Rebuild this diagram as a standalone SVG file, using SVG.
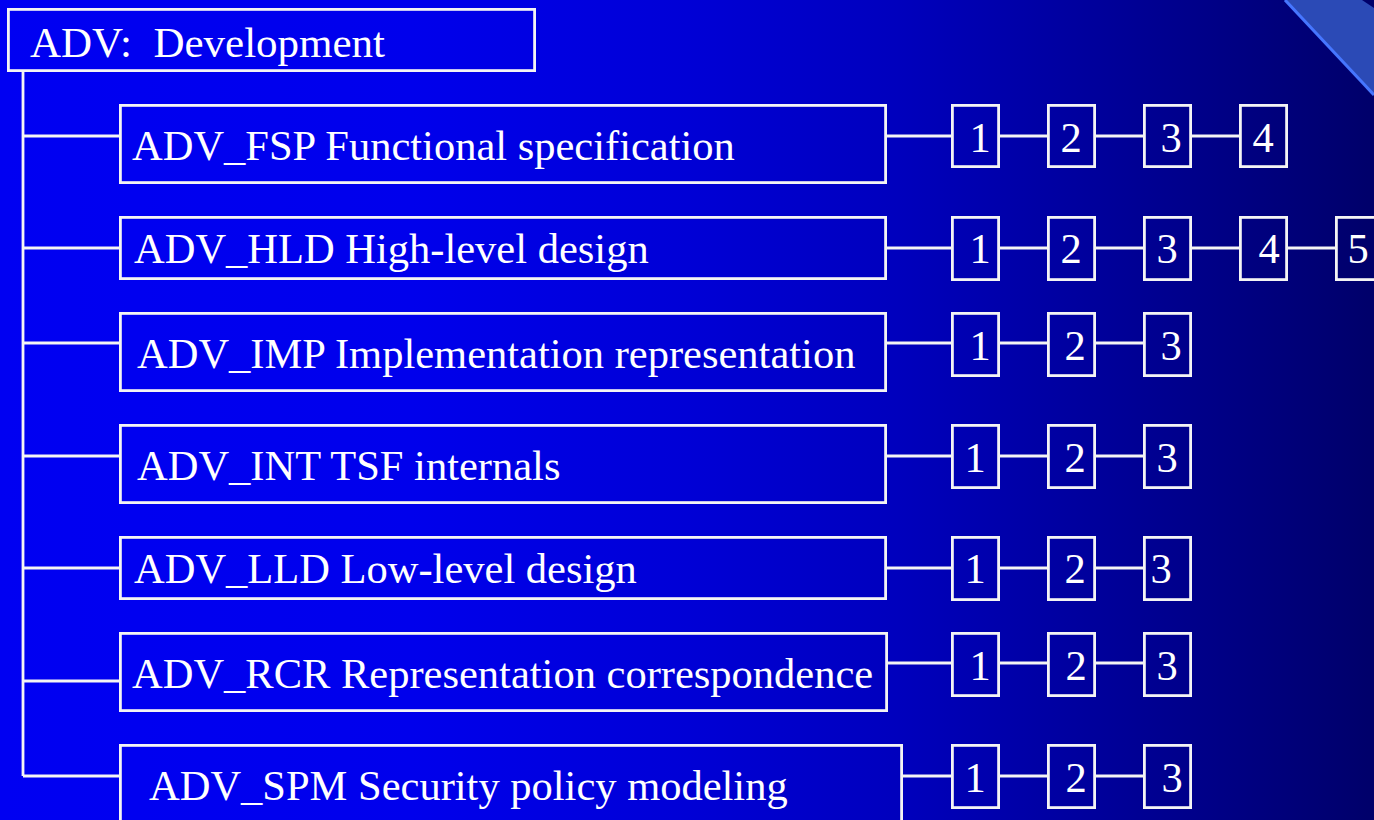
<svg xmlns="http://www.w3.org/2000/svg" width="1374" height="820" viewBox="0 0 1374 820">
  <defs>
    <linearGradient id="bg" x1="0" y1="0" x2="1374" y2="0" gradientUnits="userSpaceOnUse">
      <stop offset="0" stop-color="#0000F2"/>
      <stop offset="0.3" stop-color="#0000EC"/>
      <stop offset="0.5" stop-color="#0000D6"/>
      <stop offset="0.65" stop-color="#0000BE"/>
      <stop offset="0.82" stop-color="#000096"/>
      <stop offset="1" stop-color="#00006A"/>
    </linearGradient>
    <style>
      .box { fill: none; stroke: #F4F4F4; stroke-width: 2.8; }
      .wire { fill: none; stroke: #F4F4F4; stroke-width: 2.8; }
      .lbl { font-family: "Liberation Serif", "Times New Roman", serif; font-size: 42.5px; fill: #FFFFFF; }
      .title { font-size: 43px; }
      .num { font-family: "Liberation Serif", "Times New Roman", serif; font-size: 42.5px; fill: #FFFFFF; text-anchor: middle; }
    </style>
  </defs>

  <!-- background -->
  <rect x="0" y="0" width="1374" height="820" fill="url(#bg)"/>
  <polygon points="1285,0 1374,0 1374,95" fill="#2B4AB6"/>
  <polygon points="1362,0 1374,0 1374,8" fill="#00006A"/>
  <line x1="1285" y1="0" x2="1374" y2="95" stroke="#4676FF" stroke-width="3"/>

  <!-- connectors -->
  <g id="connectors" class="wire">
    <!-- tree trunk and branches -->
    <path d="M23,72 V776"/>
    <path d="M23,136 H119 M23,248 H119 M23,343 H119 M23,456 H119 M23,568 H119 M23,681 H119 M23,776 H119"/>
    <!-- level chains -->
    <path d="M887,136 H951 M1000,136 H1047 M1096,136 H1143 M1192,136 H1239"/>
    <path d="M887,248 H951 M1000,248 H1047 M1096,248 H1143 M1192,248 H1239 M1288,248 H1335"/>
    <path d="M887,343 H951 M1000,343 H1047 M1096,343 H1143"/>
    <path d="M887,456 H951 M1000,456 H1047 M1096,456 H1143"/>
    <path d="M887,568 H951 M1000,568 H1047 M1096,568 H1143"/>
    <path d="M887,663 H951 M1000,663 H1047 M1096,663 H1143"/>
    <path d="M903,776 H951 M1000,776 H1047 M1096,776 H1143"/>
  </g>

  <!-- root -->
  <g id="adv">
    <rect class="box" x="8.4" y="9.4" width="526.2" height="61.2"/>
    <text class="lbl title" x="30" y="57" xml:space="preserve">ADV:  Development</text>
  </g>

  <!-- families -->
  <g id="adv-fsp">
    <rect class="box" x="120.4" y="105.4" width="765.2" height="77.2"/>
    <text class="lbl" x="132" y="160">ADV_FSP Functional specification</text>
    <rect class="box" x="952.4" y="105.4" width="46.2" height="61.2"/>
    <text class="num" x="980" y="152">1</text>
    <rect class="box" x="1048.4" y="105.4" width="46.2" height="61.2"/>
    <text class="num" x="1071" y="152">2</text>
    <rect class="box" x="1144.4" y="105.4" width="46.2" height="61.2"/>
    <text class="num" x="1171" y="152">3</text>
    <rect class="box" x="1240.4" y="105.4" width="46.2" height="61.2"/>
    <text class="num" x="1263" y="152">4</text>
  </g>

  <g id="adv-hld">
    <rect class="box" x="120.4" y="217.4" width="765.2" height="61.2"/>
    <text class="lbl" x="134" y="263">ADV_HLD High-level design</text>
    <rect class="box" x="952.4" y="217.4" width="46.2" height="62.2"/>
    <text class="num" x="980" y="263">1</text>
    <rect class="box" x="1048.4" y="217.4" width="46.2" height="62.2"/>
    <text class="num" x="1071" y="263">2</text>
    <rect class="box" x="1144.4" y="217.4" width="46.2" height="62.2"/>
    <text class="num" x="1167" y="263">3</text>
    <rect class="box" x="1240.4" y="217.4" width="46.2" height="62.2"/>
    <text class="num" x="1269" y="263">4</text>
    <rect class="box" x="1336.4" y="217.4" width="46.2" height="62.2"/>
    <text class="num" x="1358" y="263">5</text>
  </g>

  <g id="adv-imp">
    <rect class="box" x="120.4" y="313.4" width="765.2" height="77.2"/>
    <text class="lbl" x="137" y="368">ADV_IMP Implementation representation</text>
    <rect class="box" x="952.4" y="313.4" width="46.2" height="62.2"/>
    <text class="num" x="980" y="360">1</text>
    <rect class="box" x="1048.4" y="313.4" width="46.2" height="62.2"/>
    <text class="num" x="1075" y="360">2</text>
    <rect class="box" x="1144.4" y="313.4" width="46.2" height="62.2"/>
    <text class="num" x="1171" y="360">3</text>
  </g>

  <g id="adv-int">
    <rect class="box" x="120.4" y="425.4" width="765.2" height="77.2"/>
    <text class="lbl" x="137" y="480">ADV_INT TSF internals</text>
    <rect class="box" x="952.4" y="425.4" width="46.2" height="62.2"/>
    <text class="num" x="975" y="472">1</text>
    <rect class="box" x="1048.4" y="425.4" width="46.2" height="62.2"/>
    <text class="num" x="1075" y="472">2</text>
    <rect class="box" x="1144.4" y="425.4" width="46.2" height="62.2"/>
    <text class="num" x="1167" y="472">3</text>
  </g>

  <g id="adv-lld">
    <rect class="box" x="120.4" y="537.4" width="765.2" height="61.2"/>
    <text class="lbl" x="134" y="583">ADV_LLD Low-level design</text>
    <rect class="box" x="952.4" y="537.4" width="46.2" height="62.2"/>
    <text class="num" x="975" y="583">1</text>
    <rect class="box" x="1048.4" y="537.4" width="46.2" height="62.2"/>
    <text class="num" x="1075" y="583">2</text>
    <rect class="box" x="1144.4" y="537.4" width="46.2" height="62.2"/>
    <text class="num" x="1161" y="583">3</text>
  </g>

  <g id="adv-rcr">
    <rect class="box" x="120.4" y="633.4" width="766.2" height="77.2"/>
    <text class="lbl" x="132" y="688">ADV_RCR Representation correspondence</text>
    <rect class="box" x="952.4" y="633.4" width="46.2" height="62.2"/>
    <text class="num" x="980" y="680">1</text>
    <rect class="box" x="1048.4" y="633.4" width="46.2" height="62.2"/>
    <text class="num" x="1076" y="680">2</text>
    <rect class="box" x="1144.4" y="633.4" width="46.2" height="62.2"/>
    <text class="num" x="1167" y="680">3</text>
  </g>

  <g id="adv-spm">
    <rect class="box" x="120.4" y="745.4" width="781.2" height="100"/>
    <text class="lbl" x="149" y="800">ADV_SPM Security policy modeling</text>
    <rect class="box" x="952.4" y="745.4" width="46.2" height="62.2"/>
    <text class="num" x="975" y="792">1</text>
    <rect class="box" x="1048.4" y="745.4" width="46.2" height="62.2"/>
    <text class="num" x="1076" y="792">2</text>
    <rect class="box" x="1144.4" y="745.4" width="46.2" height="62.2"/>
    <text class="num" x="1172" y="792">3</text>
  </g>
</svg>
